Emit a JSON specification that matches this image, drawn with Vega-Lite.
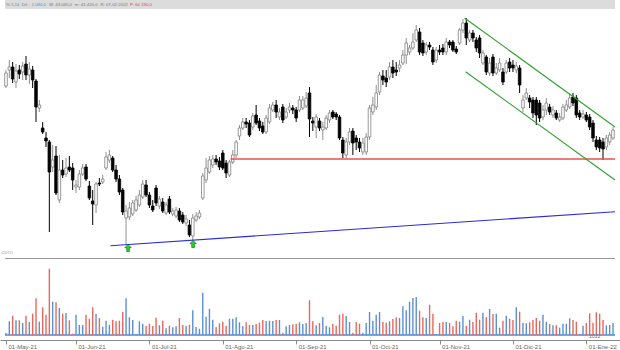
{
"$schema": "https://vega.github.io/schema/vega-lite/v6.json",
"width": 620, "height": 340,
"autosize": {"type": "none"},
"padding": {"left": 0, "top": 0, "right": 0, "bottom": 10},
"background": "#ffffff",
"config": {"view": {"stroke": null}, "font": "Liberation Sans"},
"data": {"values": [
{"i":0,"o":214,"h":230,"l":212,"c":227,"v":2},
{"i":1,"o":230,"h":240,"l":222,"c":233,"v":13.7},
{"i":2,"o":233,"h":238,"l":217,"c":221,"v":19.3},
{"i":3,"o":218,"h":236,"l":212,"c":229,"v":14.7},
{"i":4,"o":230,"h":235,"l":221,"c":226,"v":14.7},
{"i":5,"o":228,"h":238,"l":220,"c":234,"v":12},
{"i":6,"o":236,"h":244,"l":220,"c":225,"v":19.3},
{"i":7,"o":225,"h":238,"l":216,"c":231,"v":13},
{"i":8,"o":230,"h":234,"l":212,"c":220,"v":21.3},
{"i":9,"o":219,"h":221,"l":178,"c":193,"v":36.7},
{"i":10,"o":192,"h":200,"l":188,"c":195,"v":13.3},
{"i":11,"o":172,"h":178,"l":166,"c":168,"v":27.7},
{"i":12,"o":162,"h":168,"l":153,"c":159,"v":20.3},
{"i":13,"o":158,"h":160,"l":68,"c":128,"v":66.3},
{"i":14,"o":133,"h":155,"l":128,"c":140,"v":33.3},
{"i":15,"o":144,"h":154,"l":105,"c":107,"v":32.7},
{"i":16,"o":100,"h":145,"l":97,"c":130,"v":27},
{"i":17,"o":130,"h":140,"l":122,"c":125,"v":21.3},
{"i":18,"o":126,"h":142,"l":123,"c":132,"v":22},
{"i":19,"o":133,"h":144,"l":128,"c":130,"v":14.7},
{"i":20,"o":132,"h":137,"l":110,"c":120,"v":1.3},
{"i":21,"o":113,"h":120,"l":107,"c":115,"v":20.3},
{"i":22,"o":113,"h":130,"l":110,"c":126,"v":10},
{"i":23,"o":126,"h":136,"l":124,"c":132,"v":10},
{"i":24,"o":133,"h":136,"l":119,"c":121,"v":20.3},
{"i":25,"o":114,"h":119,"l":100,"c":102,"v":16.3},
{"i":26,"o":99,"h":110,"l":75,"c":96,"v":27.7},
{"i":27,"o":95,"h":118,"l":87,"c":116,"v":21},
{"i":28,"o":117,"h":122,"l":114,"c":116,"v":17},
{"i":29,"o":118,"h":125,"l":116,"c":121,"v":8.3},
{"i":30,"o":132,"h":148,"l":130,"c":143,"v":14.3},
{"i":31,"o":140,"h":150,"l":137,"c":145,"v":10.3},
{"i":32,"o":142,"h":144,"l":128,"c":130,"v":15.3},
{"i":33,"o":130,"h":135,"l":118,"c":121,"v":13.7},
{"i":34,"o":121,"h":125,"l":105,"c":108,"v":14.3},
{"i":35,"o":110,"h":112,"l":85,"c":88,"v":23},
{"i":36,"o":82,"h":95,"l":55,"c":89,"v":36.7},
{"i":37,"o":83,"h":98,"l":80,"c":92,"v":17.7},
{"i":38,"o":86,"h":100,"l":84,"c":97,"v":15},
{"i":39,"o":90,"h":104,"l":88,"c":100,"v":1},
{"i":40,"o":95,"h":110,"l":93,"c":105,"v":13.7},
{"i":41,"o":103,"h":120,"l":101,"c":116,"v":11.3},
{"i":42,"o":115,"h":120,"l":103,"c":105,"v":9},
{"i":43,"o":105,"h":108,"l":92,"c":95,"v":11.3},
{"i":44,"o":94,"h":100,"l":88,"c":90,"v":9},
{"i":45,"o":112,"h":115,"l":94,"c":97,"v":17.3},
{"i":46,"o":94,"h":104,"l":91,"c":101,"v":9.7},
{"i":47,"o":98,"h":102,"l":87,"c":89,"v":14.3},
{"i":48,"o":87,"h":98,"l":85,"c":95,"v":6.7},
{"i":49,"o":101,"h":104,"l":86,"c":88,"v":9.3},
{"i":50,"o":86,"h":92,"l":84,"c":89,"v":7.7},
{"i":51,"o":84,"h":93,"l":82,"c":90,"v":8.7},
{"i":52,"o":89,"h":92,"l":78,"c":80,"v":17},
{"i":53,"o":85,"h":88,"l":76,"c":78,"v":10},
{"i":54,"o":77,"h":85,"l":74,"c":81,"v":9.3},
{"i":55,"o":75,"h":80,"l":63,"c":65,"v":10.3},
{"i":56,"o":64,"h":86,"l":59,"c":82,"v":24.7},
{"i":57,"o":80,"h":88,"l":78,"c":84,"v":8},
{"i":58,"o":83,"h":90,"l":81,"c":87,"v":6.3},
{"i":59,"o":102,"h":127,"l":100,"c":124,"v":42.3},
{"i":60,"o":120,"h":142,"l":117,"c":132,"v":18.3},
{"i":61,"o":128,"h":144,"l":126,"c":140,"v":26.3},
{"i":62,"o":135,"h":145,"l":132,"c":141,"v":15.3},
{"i":63,"o":141,"h":145,"l":135,"c":138,"v":8},
{"i":64,"o":139,"h":143,"l":130,"c":133,"v":11.7},
{"i":65,"o":147,"h":150,"l":130,"c":132,"v":13.3},
{"i":66,"o":137,"h":140,"l":122,"c":127,"v":9.3},
{"i":67,"o":125,"h":140,"l":123,"c":138,"v":16.3},
{"i":68,"o":138,"h":150,"l":136,"c":145,"v":16.3},
{"i":69,"o":145,"h":160,"l":142,"c":158,"v":17.7},
{"i":70,"o":164,"h":175,"l":160,"c":172,"v":12.7},
{"i":71,"o":172,"h":182,"l":170,"c":178,"v":8.7},
{"i":72,"o":178,"h":182,"l":172,"c":176,"v":12.7},
{"i":73,"o":177,"h":180,"l":163,"c":165,"v":10},
{"i":74,"o":173,"h":187,"l":170,"c":184,"v":10},
{"i":75,"o":185,"h":195,"l":175,"c":177,"v":11},
{"i":76,"o":179,"h":182,"l":169,"c":172,"v":12.3},
{"i":77,"o":174,"h":178,"l":166,"c":168,"v":15},
{"i":78,"o":168,"h":185,"l":166,"c":182,"v":14},
{"i":79,"o":178,"h":196,"l":176,"c":192,"v":14.3},
{"i":80,"o":190,"h":198,"l":188,"c":195,"v":14},
{"i":81,"o":195,"h":200,"l":182,"c":188,"v":15},
{"i":82,"o":183,"h":192,"l":180,"c":188,"v":15},
{"i":83,"o":193,"h":196,"l":177,"c":180,"v":2.3},
{"i":84,"o":183,"h":192,"l":181,"c":188,"v":8.7},
{"i":85,"o":190,"h":197,"l":187,"c":193,"v":10},
{"i":86,"o":192,"h":195,"l":186,"c":190,"v":10.7},
{"i":87,"o":190,"h":193,"l":178,"c":182,"v":11.3},
{"i":88,"o":190,"h":204,"l":188,"c":200,"v":12.7},
{"i":89,"o":192,"h":204,"l":190,"c":200,"v":11},
{"i":90,"o":194,"h":208,"l":192,"c":202,"v":12},
{"i":91,"o":207,"h":213,"l":163,"c":181,"v":34.7},
{"i":92,"o":179,"h":183,"l":169,"c":177,"v":13.7},
{"i":93,"o":173,"h":186,"l":162,"c":183,"v":9.7},
{"i":94,"o":179,"h":182,"l":169,"c":172,"v":12},
{"i":95,"o":170,"h":178,"l":160,"c":173,"v":18},
{"i":96,"o":172,"h":185,"l":170,"c":182,"v":9.3},
{"i":97,"o":180,"h":190,"l":177,"c":187,"v":7.7},
{"i":98,"o":188,"h":190,"l":181,"c":183,"v":11},
{"i":99,"o":186,"h":188,"l":180,"c":183,"v":9.3},
{"i":100,"o":183,"h":185,"l":160,"c":162,"v":20.3},
{"i":101,"o":160,"h":163,"l":142,"c":147,"v":21.3},
{"i":102,"o":145,"h":162,"l":142,"c":158,"v":19},
{"i":103,"o":158,"h":172,"l":155,"c":168,"v":13},
{"i":104,"o":169,"h":172,"l":145,"c":157,"v":2.3},
{"i":105,"o":162,"h":165,"l":150,"c":158,"v":13},
{"i":106,"o":158,"h":162,"l":148,"c":152,"v":11.3},
{"i":107,"o":148,"h":162,"l":145,"c":157,"v":2.3},
{"i":108,"o":148,"h":167,"l":145,"c":163,"v":12},
{"i":109,"o":163,"h":195,"l":160,"c":192,"v":23},
{"i":110,"o":188,"h":203,"l":185,"c":195,"v":14.3},
{"i":111,"o":193,"h":215,"l":190,"c":207,"v":20.3},
{"i":112,"o":208,"h":228,"l":205,"c":225,"v":23},
{"i":113,"o":224,"h":230,"l":215,"c":220,"v":13},
{"i":114,"o":222,"h":230,"l":213,"c":218,"v":12.3},
{"i":115,"o":223,"h":238,"l":220,"c":233,"v":13.7},
{"i":116,"o":233,"h":240,"l":222,"c":227,"v":16},
{"i":117,"o":230,"h":238,"l":224,"c":228,"v":17.7},
{"i":118,"o":232,"h":240,"l":228,"c":235,"v":17},
{"i":119,"o":237,"h":250,"l":235,"c":245,"v":28.7},
{"i":120,"o":245,"h":262,"l":236,"c":257,"v":24.7},
{"i":121,"o":248,"h":255,"l":245,"c":252,"v":33.3},
{"i":122,"o":252,"h":267,"l":250,"c":258,"v":37},
{"i":123,"o":260,"h":275,"l":258,"c":270,"v":38},
{"i":124,"o":268,"h":272,"l":245,"c":248,"v":24.3},
{"i":125,"o":257,"h":260,"l":244,"c":247,"v":17.7},
{"i":126,"o":248,"h":258,"l":245,"c":255,"v":17},
{"i":127,"o":255,"h":258,"l":250,"c":253,"v":30.3},
{"i":128,"o":250,"h":253,"l":235,"c":238,"v":21.3},
{"i":129,"o":240,"h":253,"l":237,"c":250,"v":1},
{"i":130,"o":250,"h":255,"l":245,"c":248,"v":12},
{"i":131,"o":252,"h":256,"l":245,"c":248,"v":13},
{"i":132,"o":248,"h":262,"l":245,"c":258,"v":13},
{"i":133,"o":258,"h":260,"l":252,"c":255,"v":12},
{"i":134,"o":258,"h":260,"l":248,"c":250,"v":8.7},
{"i":135,"o":251,"h":254,"l":246,"c":248,"v":14.3},
{"i":136,"o":257,"h":272,"l":255,"c":270,"v":13.3},
{"i":137,"o":270,"h":281,"l":267,"c":277,"v":19},
{"i":138,"o":277,"h":282,"l":255,"c":262,"v":9.3},
{"i":139,"o":260,"h":270,"l":258,"c":267,"v":15.3},
{"i":140,"o":267,"h":270,"l":258,"c":262,"v":13},
{"i":141,"o":260,"h":263,"l":248,"c":252,"v":22.3},
{"i":142,"o":262,"h":265,"l":242,"c":247,"v":15.3},
{"i":143,"o":237,"h":250,"l":235,"c":247,"v":22.3},
{"i":144,"o":243,"h":245,"l":225,"c":228,"v":17.7},
{"i":145,"o":227,"h":242,"l":224,"c":237,"v":26},
{"i":146,"o":243,"h":246,"l":224,"c":227,"v":21},
{"i":147,"o":227,"h":237,"l":225,"c":232,"v":21.3},
{"i":148,"o":230,"h":242,"l":228,"c":237,"v":7.3},
{"i":149,"o":228,"h":232,"l":215,"c":218,"v":14.3},
{"i":150,"o":228,"h":240,"l":226,"c":237,"v":19.3},
{"i":151,"o":238,"h":242,"l":228,"c":232,"v":16.3},
{"i":152,"o":235,"h":240,"l":228,"c":232,"v":15},
{"i":153,"o":230,"h":238,"l":227,"c":234,"v":27.7},
{"i":154,"o":232,"h":235,"l":207,"c":215,"v":23.3},
{"i":155,"o":192,"h":205,"l":188,"c":200,"v":12.3},
{"i":156,"o":202,"h":212,"l":200,"c":207,"v":11.7},
{"i":157,"o":202,"h":205,"l":192,"c":198,"v":12.7},
{"i":158,"o":200,"h":203,"l":182,"c":187,"v":15},
{"i":159,"o":200,"h":203,"l":175,"c":185,"v":17},
{"i":160,"o":197,"h":200,"l":178,"c":182,"v":14.3},
{"i":161,"o":183,"h":195,"l":180,"c":190,"v":20.3},
{"i":162,"o":190,"h":202,"l":185,"c":197,"v":13.3},
{"i":163,"o":193,"h":196,"l":185,"c":188,"v":11},
{"i":164,"o":185,"h":194,"l":182,"c":190,"v":9.7},
{"i":165,"o":187,"h":190,"l":180,"c":182,"v":9.7},
{"i":166,"o":180,"h":187,"l":178,"c":183,"v":7.3},
{"i":167,"o":182,"h":196,"l":180,"c":193,"v":11.3},
{"i":168,"o":190,"h":200,"l":188,"c":195,"v":11.3},
{"i":169,"o":193,"h":207,"l":191,"c":202,"v":16.7},
{"i":170,"o":203,"h":207,"l":194,"c":197,"v":15},
{"i":171,"o":202,"h":205,"l":182,"c":185,"v":13.3},
{"i":172,"o":187,"h":190,"l":180,"c":183,"v":1},
{"i":173,"o":183,"h":190,"l":181,"c":186,"v":9.3},
{"i":174,"o":185,"h":188,"l":178,"c":180,"v":12},
{"i":175,"o":183,"h":186,"l":170,"c":173,"v":21.7},
{"i":176,"o":177,"h":180,"l":158,"c":162,"v":12.3},
{"i":177,"o":160,"h":164,"l":150,"c":153,"v":22.7},
{"i":178,"o":160,"h":163,"l":148,"c":152,"v":21.3},
{"i":179,"o":158,"h":162,"l":140,"c":151,"v":15},
{"i":180,"o":153,"h":165,"l":150,"c":162,"v":9.7},
{"i":181,"o":158,"h":168,"l":155,"c":165,"v":10},
{"i":182,"o":162,"h":173,"l":160,"c":170,"v":12}
]},
"resolve": {"scale": {"y": "independent"}},
"layer": [
{"layer": [
 {"data": {"values": [{}]},
  "mark": {"type": "rect", "color": "#dcdcdc"},
  "encoding": {
   "x": {"datum": -0.295, "type": "quantitative",
    "scale": {"domain": [-0.295, 182.596], "nice": false, "zero": false},
    "axis": {"title": null, "values": [0,21,43,65,87,109,130,152,174],
     "labelExpr": "['01-May-21','01-Jun-21','01-Jul-21','01-Ago-21','01-Sep-21','01-Oct-21','01-Nov-21','01-Dic-21','01-Ene-22'][indexof([0,21,43,65,87,109,130,152,174], datum.value)]",
     "labelAlign": "left", "labelOffset": 2, "labelFontSize": 6, "labelColor": "#666666",
     "tickSize": 4, "tickColor": "#8a8a8a", "domainColor": "#8a8a8a", "labelPadding": -1,
     "grid": false, "labelFlush": false, "labelOverlap": false, "labelBound": false}},
   "x2": {"datum": 182.596},
   "y": {"datum": 291, "type": "quantitative", "scale": {"domain": [-40, 300], "nice": false, "zero": false}, "axis": null},
   "y2": {"datum": 300}
  }},
 {"data": {"values": [{}]},
  "mark": {"type": "rule", "color": "#9a9a9a", "strokeWidth": 1},
  "encoding": {"x": {"datum": -0.295, "type": "quantitative"}, "x2": {"datum": 182.596},
   "y": {"datum": 41.5, "type": "quantitative", "axis": null}}},
 {"mark": {"type": "rule", "strokeWidth": 1},
  "encoding": {
   "x": {"field": "i", "type": "quantitative"},
   "y": {"field": "l", "type": "quantitative", "axis": null},
   "y2": {"field": "h"},
   "color": {"condition": {"test": "datum.c >= datum.o", "value": "#8f8f8f"}, "value": "#000000"}
  }},
 {"mark": {"type": "bar", "size": 2.6, "strokeWidth": 0.8},
  "encoding": {
   "x": {"field": "i", "type": "quantitative"},
   "y": {"field": "o", "type": "quantitative", "axis": null},
   "y2": {"field": "c"},
   "fill": {"condition": {"test": "datum.c >= datum.o", "value": "#ffffff"}, "value": "#000000"},
   "stroke": {"condition": {"test": "datum.c >= datum.o", "value": "#808080"}, "value": "#000000"}
  }},
 {"data": {"values": [{}]},
  "mark": {"type": "rule", "color": "#e8524c", "strokeWidth": 1.4},
  "encoding": {"x": {"datum": 67.3, "type": "quantitative"}, "x2": {"datum": 182.596},
   "y": {"datum": 141, "type": "quantitative", "axis": null}}},
 {"data": {"values": [{}]},
  "mark": {"type": "rule", "color": "#2a2ad8", "strokeWidth": 1.1},
  "encoding": {"x": {"datum": 31.3, "type": "quantitative"}, "x2": {"datum": 182.596},
   "y": {"datum": 54.3, "type": "quantitative", "axis": null}, "y2": {"datum": 88.3}}},
 {"data": {"values": [{}]},
  "mark": {"type": "rule", "color": "#2ea02e", "strokeWidth": 1.1},
  "encoding": {"x": {"datum": 137.5, "type": "quantitative"}, "x2": {"datum": 182.596},
   "y": {"datum": 282, "type": "quantitative", "axis": null}, "y2": {"datum": 173}}},
 {"data": {"values": [{}]},
  "mark": {"type": "rule", "color": "#2ea02e", "strokeWidth": 1.1},
  "encoding": {"x": {"datum": 137.8, "type": "quantitative"}, "x2": {"datum": 182.596},
   "y": {"datum": 228.3, "type": "quantitative", "axis": null}, "y2": {"datum": 120}}},
 {"data": {"values": [{}]},
  "mark": {"type": "point", "shape": "M0,-1L0.9,-0.1L0.38,-0.1L0.38,1L-0.38,1L-0.38,-0.1L-0.9,-0.1Z", "filled": true, "size": 50, "fill": "#2bd42b", "stroke": "#127a12", "strokeWidth": 0.7, "opacity": 1},
  "encoding": {"x": {"datum": 36.6, "type": "quantitative"}, "y": {"datum": 52, "type": "quantitative", "axis": null}}},
 {"data": {"values": [{}]},
  "mark": {"type": "point", "shape": "M0,-1L0.9,-0.1L0.38,-0.1L0.38,1L-0.38,1L-0.38,-0.1L-0.9,-0.1Z", "filled": true, "size": 50, "fill": "#2bd42b", "stroke": "#127a12", "strokeWidth": 0.7, "opacity": 1},
  "encoding": {"x": {"datum": 56.1, "type": "quantitative"}, "y": {"datum": 56, "type": "quantitative", "axis": null}}},
 {"data": {"values": [{}]},
  "mark": {"type": "text", "text": "%", "fontSize": 4.3, "align": "left", "baseline": "middle", "color": "#777777"},
  "encoding": {"x": {"datum": 0, "type": "quantitative"}, "y": {"datum": 295.5, "type": "quantitative", "axis": null}}},
 {"data": {"values": [{}]},
  "mark": {"type": "text", "text": "5,14", "fontSize": 4.3, "align": "left", "baseline": "middle", "color": "#4a8fd8"},
  "encoding": {"x": {"datum": 1.47, "type": "quantitative"}, "y": {"datum": 295.5, "type": "quantitative", "axis": null}}},
 {"data": {"values": [{}]},
  "mark": {"type": "text", "text": "Dif.:", "fontSize": 4.3, "align": "left", "baseline": "middle", "color": "#777777"},
  "encoding": {"x": {"datum": 4.72, "type": "quantitative"}, "y": {"datum": 295.5, "type": "quantitative", "axis": null}}},
 {"data": {"values": [{}]},
  "mark": {"type": "text", "text": "2.090,0", "fontSize": 4.3, "align": "left", "baseline": "middle", "color": "#4a8fd8"},
  "encoding": {"x": {"datum": 7.67, "type": "quantitative"}, "y": {"datum": 295.5, "type": "quantitative", "axis": null}}},
 {"data": {"values": [{}]},
  "mark": {"type": "text", "text": "M: 43.045,0", "fontSize": 4.3, "align": "left", "baseline": "middle", "color": "#777777"},
  "encoding": {"x": {"datum": 12.98, "type": "quantitative"}, "y": {"datum": 295.5, "type": "quantitative", "axis": null}}},
 {"data": {"values": [{}]},
  "mark": {"type": "text", "text": "m: 41.420,0", "fontSize": 4.3, "align": "left", "baseline": "middle", "color": "#777777"},
  "encoding": {"x": {"datum": 20.65, "type": "quantitative"}, "y": {"datum": 295.5, "type": "quantitative", "axis": null}}},
 {"data": {"values": [{}]},
  "mark": {"type": "text", "text": "R: 07-02-2022", "fontSize": 4.3, "align": "left", "baseline": "middle", "color": "#777777"},
  "encoding": {"x": {"datum": 28.32, "type": "quantitative"}, "y": {"datum": 295.5, "type": "quantitative", "axis": null}}},
 {"data": {"values": [{}]},
  "mark": {"type": "text", "text": "P: 64.190,0", "fontSize": 4.3, "align": "left", "baseline": "middle", "color": "#e84040"},
  "encoding": {"x": {"datum": 37.17, "type": "quantitative"}, "y": {"datum": 295.5, "type": "quantitative", "axis": null}}},
 {"data": {"values": [{}]},
  "mark": {"type": "text", "text": "com", "fontSize": 6, "align": "right", "baseline": "middle", "color": "#b0b0b0"},
  "encoding": {"x": {"datum": 2.0, "type": "quantitative"}, "y": {"datum": 48, "type": "quantitative", "axis": null}}}
]},
{"layer": [
 {"data": {"values": [{}]},
  "mark": {"type": "rule", "color": "#4f86cf", "strokeWidth": 1.3},
  "encoding": {"x": {"datum": -0.295, "type": "quantitative"}, "x2": {"datum": 182.596},
   "y": {"datum": 0, "type": "quantitative", "scale": {"domain": [-5, 335], "nice": false, "zero": false}, "axis": null}}},
 {"mark": {"type": "rule", "strokeWidth": 1.4},
  "encoding": {
   "x": {"field": "i", "type": "quantitative"},
   "y": {"field": "v", "type": "quantitative", "axis": null},
   "y2": {"datum": 0},
   "color": {"condition": {"test": "datum.c >= datum.o", "value": "#5b8fd2"}, "value": "#e8675c"}
  }},
 {"data": {"values": [{}]},
  "mark": {"type": "text", "text": "2022", "fontSize": 5, "align": "left", "baseline": "middle", "color": "#777777"},
  "encoding": {"x": {"datum": 174.9, "type": "quantitative"}, "y": {"datum": -1, "type": "quantitative", "axis": null}}}
]}
]
}
